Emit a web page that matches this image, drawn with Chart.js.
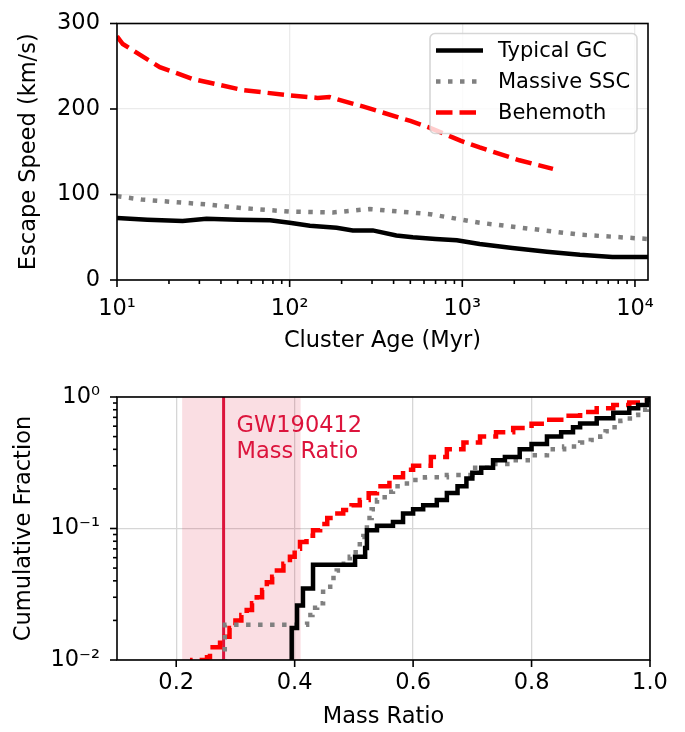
<!DOCTYPE html>
<html>
<head>
<meta charset="utf-8">
<script src="https://cdn.jsdelivr.net/npm/chart.js@4.4.0/dist/chart.umd.min.js"></script>
<style>
    html, body { margin: 0; padding: 0; background: #fff; }
    #wrap { position: relative; width: 685px; height: 732px; }
    .box { position: absolute; left: 0; width: 685px; }
    #box-top { top: 0; height: 365px; }
    #box-bottom { top: 365px; height: 367px; }
</style>
</head>
<body>
<div id="wrap">
    <div class="box" id="box-top"><canvas id="chart-escape-speed"></canvas></div>
    <div class="box" id="box-bottom"><canvas id="chart-mass-ratio"></canvas></div>
</div>
<script>
// ---- top panel: escape speed vs cluster age ----
const ageGC = [10, 15, 24, 33, 50, 77, 100, 131, 187, 232, 303, 415, 517, 700, 930, 1260, 1950, 3090, 4800, 7400, 11900];
const vescGC = [72.5, 70.5, 69, 71.5, 70.5, 70, 67, 63.5, 61, 58, 58, 52, 50, 48, 46.5, 42, 37.5, 33, 29.5, 27, 27];

const ageSSC = [10, 14, 22, 35, 54, 100, 178, 290, 500, 650, 1260, 2450, 4800, 11900];
const vescSSC = [98, 94, 91, 88, 84, 80, 79, 83, 79, 77, 67, 60, 53, 48];

const ageBH = [10, 10.8, 17.7, 27.6, 54, 100, 145, 170, 265, 500, 650, 975, 1260, 2140, 3350];
const vescBH = [285, 276, 249, 235, 222, 216, 213, 214, 203, 186, 178, 163, 155, 140, 130];

const ageTicks = [10, 100, 1000, 10000];
const ageTickLabels = ['10¹', '10²', '10³', '10⁴'];
const speedTicks = [0, 100, 200, 300];

// ---- bottom panel: cumulative mass ratio ----
const massGC = [0.395, 0.395, 0.404, 0.414, 0.431, 0.502, 0.519, 0.522, 0.539, 0.566, 0.583, 0.600, 0.617, 0.640, 0.657, 0.675, 0.690, 0.700, 0.715, 0.735, 0.755, 0.780, 0.800, 0.826, 0.850, 0.870, 0.882, 0.910, 0.938, 0.965, 0.980, 0.995, 1.0];
const cdfGC = [0.005, 0.0175, 0.026, 0.035, 0.053, 0.061, 0.071, 0.097, 0.105, 0.112, 0.13, 0.14, 0.15, 0.165, 0.186, 0.21, 0.24, 0.265, 0.29, 0.33, 0.35, 0.40, 0.44, 0.50, 0.54, 0.59, 0.63, 0.69, 0.76, 0.82, 0.87, 0.95, 1.0];

const massSSC = [0.282, 0.282, 0.421, 0.430, 0.438, 0.448, 0.460, 0.471, 0.483, 0.493, 0.503, 0.510, 0.516, 0.522, 0.530, 0.539, 0.552, 0.566, 0.580, 0.595, 0.620, 0.657, 0.700, 0.735, 0.769, 0.800, 0.826, 0.855, 0.882, 0.900, 0.916, 0.925, 0.933, 0.950, 0.966, 0.980, 0.995, 1.0];
const cdfSSC = [0.005, 0.0185, 0.022, 0.025, 0.027, 0.036, 0.042, 0.048, 0.054, 0.061, 0.072, 0.086, 0.10, 0.12, 0.14, 0.165, 0.19, 0.21, 0.22, 0.234, 0.245, 0.255, 0.29, 0.31, 0.33, 0.36, 0.40, 0.42, 0.45, 0.47, 0.50, 0.55, 0.59, 0.66, 0.73, 0.80, 0.90, 1.0];

const massBH = [0.227, 0.227, 0.252, 0.257, 0.274, 0.282, 0.290, 0.300, 0.310, 0.319, 0.328, 0.336, 0.345, 0.353, 0.362, 0.370, 0.381, 0.392, 0.400, 0.409, 0.420, 0.431, 0.443, 0.455, 0.468, 0.482, 0.496, 0.510, 0.525, 0.539, 0.560, 0.583, 0.600, 0.630, 0.657, 0.685, 0.713, 0.740, 0.769, 0.800, 0.826, 0.855, 0.882, 0.910, 0.938, 0.965, 0.995, 1.0];
const cdfBH = [0.005, 0.010, 0.0105, 0.0125, 0.0135, 0.015, 0.0175, 0.020, 0.022, 0.024, 0.027, 0.030, 0.034, 0.039, 0.043, 0.048, 0.054, 0.061, 0.070, 0.079, 0.088, 0.097, 0.108, 0.12, 0.13, 0.138, 0.15, 0.165, 0.185, 0.21, 0.245, 0.28, 0.30, 0.35, 0.40, 0.45, 0.50, 0.54, 0.58, 0.625, 0.67, 0.72, 0.77, 0.82, 0.87, 0.91, 0.95, 1.0];

const massTicks = [0.2, 0.4, 0.6, 0.8, 1.0];
const massTickLabels = ['0.2', '0.4', '0.6', '0.8', '1.0'];
const fracTicks = [0.01, 0.1, 1];
const fracTickLabels = ['10⁻²', '10⁻¹', '10⁰'];

const gwRatio = 0.28;
const gwBand = [0.21, 0.41];

const CRIMSON = '#dc143c';
const FONT = "'DejaVu Sans', sans-serif";

Chart.defaults.font.family = FONT;
Chart.defaults.font.size = 22.5;
Chart.defaults.color = '#000';

function pts(xs, ys) {
    return xs.map((x, i) => ({x: x, y: ys[i]}));
}

// majors from the tick list plus 2..9 minors inside each decade
function logTicks(majors, max) {
    const out = [];
    majors.forEach(m => {
        out.push({value: m, major: true});
        for (let k = 2; k <= 9; k++) {
            if (m * k <= max) out.push({value: m * k, major: false});
        }
    });
    return out;
}

// box around the plot + outward tick marks (minor ones shorter)
const frameAndTicks = {
    id: 'frameAndTicks',
    afterDraw(chart) {
        const ctx = chart.ctx;
        const a = chart.chartArea;
        ctx.save();
        ctx.strokeStyle = '#000';
        ctx.lineWidth = 1.6;
        ctx.setLineDash([]);
        const sx = chart.scales.x;
        sx.ticks.forEach(t => {
            const p = sx.getPixelForValue(t.value);
            ctx.beginPath();
            ctx.moveTo(p, a.bottom);
            ctx.lineTo(p, a.bottom + (t.major ? 7 : 4));
            ctx.stroke();
        });
        const sy = chart.scales.y;
        sy.ticks.forEach(t => {
            const p = sy.getPixelForValue(t.value);
            ctx.beginPath();
            ctx.moveTo(a.left, p);
            ctx.lineTo(a.left - (t.major ? 7 : 4), p);
            ctx.stroke();
        });
        ctx.strokeRect(a.left, a.top, a.right - a.left, a.bottom - a.top);
        ctx.restore();
    }
};

const insetLegend = {
    id: 'insetLegend',
    afterDraw(chart) {
        const ctx = chart.ctx;
        const a = chart.chartArea;
        const w = 207, h = 100;
        const x0 = a.right - 11 - w;
        const y0 = a.top + 10;
        ctx.save();
        ctx.beginPath();
        ctx.roundRect(x0, y0, w, h, 5);
        ctx.fillStyle = 'rgba(255,255,255,0.8)';
        ctx.fill();
        ctx.strokeStyle = 'rgba(204,204,204,0.8)';
        ctx.lineWidth = 1.6;
        ctx.stroke();
        chart.data.datasets.forEach((ds, i) => {
            const y = y0 + 17 + i * 31;
            ctx.beginPath();
            ctx.strokeStyle = ds.borderColor;
            ctx.lineWidth = ds.borderWidth;
            ctx.setLineDash(ds.borderDash || []);
            ctx.moveTo(x0 + 6, y);
            ctx.lineTo(x0 + 53, y);
            ctx.stroke();
            ctx.setLineDash([]);
            ctx.fillStyle = '#000';
            ctx.font = '21px ' + FONT;
            ctx.textBaseline = 'middle';
            ctx.textAlign = 'left';
            ctx.fillText(ds.label, x0 + 68, y + 1);
        });
        ctx.restore();
    }
};

const gwMarker = {
    id: 'gwMarker',
    beforeDatasetsDraw(chart) {
        const ctx = chart.ctx;
        const a = chart.chartArea;
        const sx = chart.scales.x;
        const b0 = sx.getPixelForValue(gwBand[0]);
        const b1 = sx.getPixelForValue(gwBand[1]);
        const xm = sx.getPixelForValue(gwRatio);
        ctx.save();
        ctx.fillStyle = 'rgba(220,20,60,0.14)';
        ctx.fillRect(b0, a.top, b1 - b0, a.bottom - a.top);
        ctx.strokeStyle = CRIMSON;
        ctx.lineWidth = 3;
        ctx.beginPath();
        ctx.moveTo(xm, a.top);
        ctx.lineTo(xm, a.bottom);
        ctx.stroke();
        ctx.fillStyle = CRIMSON;
        ctx.font = '22.5px ' + FONT;
        ctx.textBaseline = 'alphabetic';
        ctx.textAlign = 'left';
        ctx.fillText('GW190412', xm + 13, a.top + 35);
        ctx.fillText('Mass Ratio', xm + 13, a.top + 61);
        ctx.restore();
    }
};

function lineSet(label, data, color, width, dash, stepped) {
    return {
        label: label,
        data: data,
        borderColor: color,
        backgroundColor: color,
        borderWidth: width,
        borderDash: dash,
        pointRadius: 0,
        tension: 0,
        stepped: stepped,
        fill: false
    };
}

function gridColor(light) {
    return c => (c.tick && c.tick.major) ? light : 'rgba(0,0,0,0)';
}

function loadChartEscapeSpeed() {
    const ctx = document.getElementById('chart-escape-speed').getContext('2d');
    const myChart = new Chart(ctx, {
        type: 'line',
        data: {
            datasets: [
                lineSet('Typical GC', pts(ageGC, vescGC), '#000000', 4.5, [], false),
                lineSet('Massive SSC', pts(ageSSC, vescSSC), '#808080', 4.5, [4.5, 7.5], false),
                lineSet('Behemoth', pts(ageBH, vescBH), '#ff0000', 4.5, [16.5, 7], false)
            ]
        },
        options: {
            responsive: true,
            maintainAspectRatio: false,
            animation: false,
            devicePixelRatio: 1,
            layout: { padding: { left: 0, right: 37, top: 16, bottom: 0 } },
            plugins: { legend: { display: false }, tooltip: { enabled: false } },
            scales: {
                x: {
                    type: 'logarithmic',
                    min: 10,
                    max: 11900,
                    afterBuildTicks: s => { s.ticks = logTicks(ageTicks, 11900); },
                    afterFit: s => { s.height = 85; },
                    ticks: {
                        autoSkip: false,
                        maxRotation: 0,
                        padding: 9,
                        callback: v => {
                            const k = ageTicks.indexOf(v);
                            return k >= 0 ? ageTickLabels[k] : '';
                        }
                    },
                    grid: { color: gridColor('#ebebeb'), lineWidth: 1.3, tickColor: 'rgba(0,0,0,0)', tickLength: 7 },
                    border: { display: false },
                    title: { display: true, text: 'Cluster Age (Myr)', padding: { top: 0, bottom: 10 } }
                },
                y: {
                    type: 'linear',
                    min: 0,
                    max: 300,
                    afterBuildTicks: s => { s.ticks = speedTicks.map(v => ({value: v, major: true})); },
                    afterFit: s => { s.width = 117; },
                    ticks: { padding: 10, callback: v => String(v) },
                    grid: { color: gridColor('#ebebeb'), lineWidth: 1.3, tickColor: 'rgba(0,0,0,0)', tickLength: 7 },
                    border: { display: false },
                    title: { display: true, text: 'Escape Speed (km/s)', padding: { top: 16, bottom: 0 } }
                }
            }
        },
        plugins: [frameAndTicks, insetLegend]
    });
}

function loadChartMassRatio() {
    const ctx = document.getElementById('chart-mass-ratio').getContext('2d');
    const myChart = new Chart(ctx, {
        type: 'line',
        data: {
            datasets: [
                lineSet('Typical GC', pts(massGC, cdfGC), '#000000', 4.5, [], 'before'),
                lineSet('Massive SSC', pts(massSSC, cdfSSC), '#808080', 4.5, [4.5, 7.5], 'before'),
                lineSet('Behemoth', pts(massBH, cdfBH), '#ff0000', 4.5, [16.5, 7], 'before')
            ]
        },
        options: {
            responsive: true,
            maintainAspectRatio: false,
            animation: false,
            devicePixelRatio: 1,
            layout: { padding: { left: 0, right: 35, top: 32, bottom: 0 } },
            plugins: { legend: { display: false }, tooltip: { enabled: false } },
            scales: {
                x: {
                    type: 'linear',
                    min: 0.1,
                    max: 1.0,
                    afterBuildTicks: s => { s.ticks = massTicks.map(v => ({value: v, major: true})); },
                    afterFit: s => { s.height = 72; },
                    ticks: {
                        autoSkip: false,
                        maxRotation: 0,
                        padding: 3,
                        callback: v => {
                            const k = massTicks.indexOf(v);
                            return k >= 0 ? massTickLabels[k] : '';
                        }
                    },
                    grid: { color: gridColor('#d6d6d6'), lineWidth: 1.3, tickColor: 'rgba(0,0,0,0)', tickLength: 7 },
                    border: { display: false },
                    title: { display: true, text: 'Mass Ratio', padding: { top: 0, bottom: 1 } }
                },
                y: {
                    type: 'logarithmic',
                    min: 0.01,
                    max: 1,
                    afterBuildTicks: s => { s.ticks = logTicks(fracTicks, 1); },
                    afterFit: s => { s.width = 117; },
                    ticks: {
                        autoSkip: false,
                        padding: 10,
                        callback: v => {
                            const k = fracTicks.indexOf(v);
                            return k >= 0 ? fracTickLabels[k] : '';
                        }
                    },
                    grid: { color: gridColor('#d6d6d6'), lineWidth: 1.3, tickColor: 'rgba(0,0,0,0)', tickLength: 7 },
                    border: { display: false },
                    title: { display: true, text: 'Cumulative Fraction', padding: { top: 11, bottom: 0 } }
                }
            }
        },
        plugins: [gwMarker, frameAndTicks]
    });
}

loadChartEscapeSpeed();
loadChartMassRatio();
</script>
</body>
</html>
